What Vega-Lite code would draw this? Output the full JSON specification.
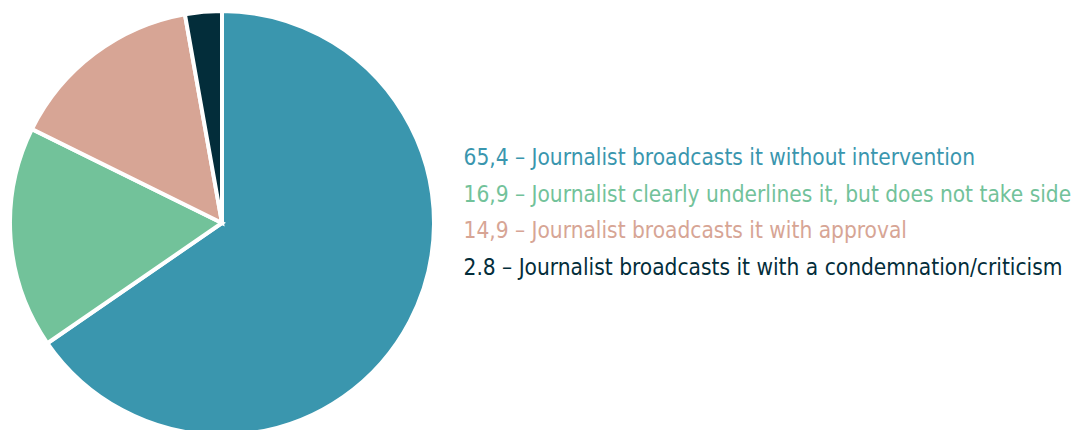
{
  "$schema": "https://vega.github.io/schema/vega-lite/v6.json",
  "width": 424,
  "height": 424,
  "padding": {"left": 2, "top": 3, "right": 0, "bottom": 0},
  "autosize": {"type": "pad"},
  "background": "white",
  "view": {"stroke": null},
  "data": {
    "values": [
      {"label": "65,4 – Journalist broadcasts it without intervention", "share": 65.4, "order": 1},
      {"label": "16,9 – Journalist clearly underlines it, but does not take side", "share": 16.9, "order": 2},
      {"label": "14,9 – Journalist broadcasts it with approval", "share": 14.9, "order": 3},
      {"label": "2.8 – Journalist broadcasts it with a condemnation/criticism", "share": 2.8, "order": 4}
    ]
  },
  "mark": {"type": "arc", "stroke": "white", "strokeWidth": 4},
  "encoding": {
    "theta": {"field": "share", "type": "quantitative", "stack": true},
    "order": {"field": "order", "type": "quantitative"},
    "color": {
      "field": "label",
      "type": "nominal",
      "sort": {"field": "order"},
      "scale": {
        "domain": [
          "65,4 – Journalist broadcasts it without intervention",
          "16,9 – Journalist clearly underlines it, but does not take side",
          "14,9 – Journalist broadcasts it with approval",
          "2.8 – Journalist broadcasts it with a condemnation/criticism"
        ],
        "range": ["#3a96ae", "#72c29a", "#d7a595", "#032d3a"]
      },
      "legend": {
        "orient": "none",
        "legendX": 431,
        "legendY": 136,
        "title": null,
        "symbolSize": 0,
        "symbolOpacity": 0,
        "symbolStrokeWidth": 0,
        "labelOffset": 0,
        "labelFont": "DejaVu Sans Condensed",
        "labelFontSize": 22.5,
        "labelLimit": 700,
        "rowPadding": 13.5,
        "labelColor": {"expr": "scale('color', datum.value)"}
      }
    }
  }
}
